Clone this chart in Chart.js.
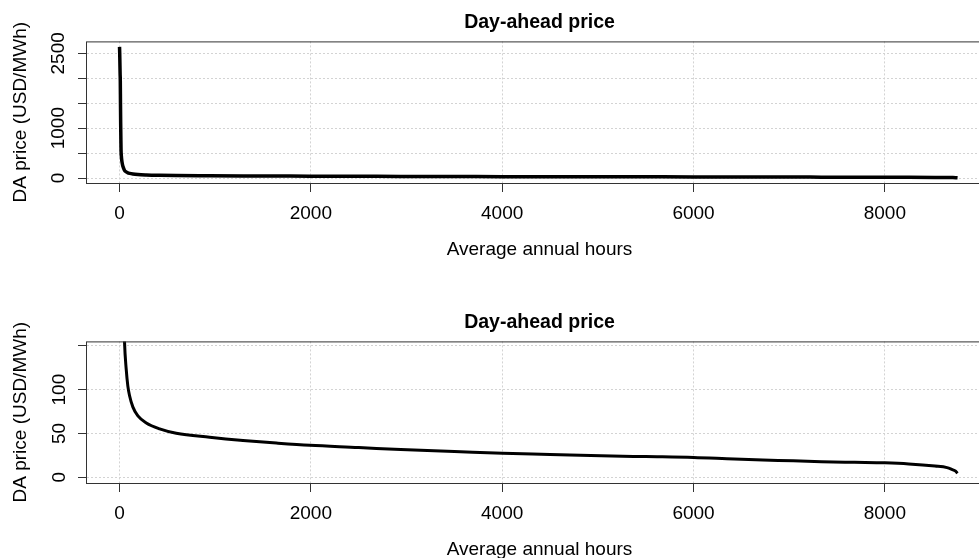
<!DOCTYPE html>
<html>
<head>
<meta charset="utf-8">
<title>Day-ahead price</title>
<script src="https://cdn.jsdelivr.net/npm/chart.js@4.4.1/dist/chart.umd.min.js"></script>
<style>
    html, body { margin: 0; padding: 0; background: #fff; overflow: hidden; width: 979px; height: 558px; }
    .panel { position: absolute; left: 0; width: 1000px; height: 300px; }
    #topPanel { top: 0; }
    #bottomPanel { top: 300px; }
</style>
</head>
<body>
<div class="panel" id="topPanel"><canvas id="topChart" width="1000" height="300"></canvas></div>
<div class="panel" id="bottomPanel"><canvas id="bottomChart" width="1000" height="300"></canvas></div>
<script>
// ============================================
// DATA (price duration curve)
// ============================================
const hours = [0, 2, 4, 6, 8, 10, 12, 14, 16, 20, 26, 32, 40, 52, 70, 87, 105, 140, 192, 280, 419, 593, 942, 1291, 1640, 1990, 2500, 2939, 3500, 4004, 4500, 5034, 5500, 6000, 6426, 6885, 7337, 7683, 8000, 8250, 8525, 8650, 8700, 8740, 8760];
const prices = [2630, 2500, 2300, 2100, 1950, 1500, 1100, 800, 550, 420, 320, 260, 210, 155, 123, 104, 93, 80, 70, 62, 55.3, 50.3, 45.8, 42.1, 39.1, 36.5, 34, 31.6, 29.4, 27.3, 26, 24.5, 23.6, 22.7, 20.8, 19.3, 17.8, 17.1, 16.5, 15.3, 12.8, 11, 9, 7, 4.5];

const xTicks = [0, 2000, 4000, 6000, 8000];
const topYTicks = [0, 500, 1000, 1500, 2000, 2500];
const topYLabels = ['0', '', '1000', '', '', '2500'];
const bottomYTicks = [0, 50, 100, 150];
const bottomYLabels = ['0', '50', '100', ''];

const chartTitle = 'Day-ahead price';
const xTitle = 'Average annual hours';
const yTitle = 'DA price (USD/MWh)';

// ============================================
// CONFIGURATION
// ============================================
const FONT = "'Liberation Sans', Arial, sans-serif";
const GRID_COLOR = '#d3d3d3';
const AXIS_COLOR = '#333';

// draws the full box round the plot region, like base R
const boxPlugin = {
    id: 'plotBox',
    afterDraw(chart) {
        const { ctx, chartArea: a } = chart;
        ctx.save();
        ctx.strokeStyle = AXIS_COLOR;
        ctx.lineWidth = 1;
        ctx.strokeRect(a.left - 0.5, a.top + 0.5, a.right - a.left + 1, a.bottom - a.top);
        ctx.restore();
    }
};

// ============================================
// INITIALIZATION
// ============================================
document.addEventListener('DOMContentLoaded', () => {
    createPanel('topChart', {
        yMin: -100, yMax: 2740,
        yTicks: topYTicks, yLabels: topYLabels,
        tickPadding: -2, lineWidth: 3.5
    });
    createPanel('bottomChart', {
        yMin: -6.5, yMax: 155,
        yTicks: bottomYTicks, yLabels: bottomYLabels,
        tickPadding: 2, lineWidth: 3
    });
});

function createPanel(canvasId, opts) {
    const ctx = document.getElementById(canvasId);
    if (!ctx) return null;

    return new Chart(ctx, {
        type: 'line',
        data: {
            datasets: [{
                data: hours.map((h, i) => ({ x: h, y: prices[i] })),
                borderColor: '#000',
                borderWidth: opts.lineWidth,
                pointRadius: 0,
                cubicInterpolationMode: 'monotone',
                fill: false,
                clip: 0
            }]
        },
        options: {
            responsive: false,
            animation: false,
            devicePixelRatio: 1,
            layout: { padding: { left: 0, right: 8, top: 0, bottom: 0 } },
            plugins: {
                legend: { display: false },
                tooltip: { enabled: false },
                title: {
                    display: true,
                    text: chartTitle,
                    fullSize: false,
                    color: '#000',
                    font: { family: FONT, size: 19.5, weight: 'bold', lineHeight: 1.2 },
                    padding: { top: 11, bottom: 7 }
                }
            },
            scales: {
                x: {
                    type: 'linear',
                    min: -340,
                    max: 9120,
                    afterBuildTicks: s => { s.ticks = xTicks.map(v => ({ value: v })); },
                    afterFit: s => { s.height = 117; },
                    grid: {
                        color: GRID_COLOR,
                        lineWidth: 1,
                        tickLength: 9,
                        tickColor: AXIS_COLOR,
                        tickWidth: 1,
                        tickBorderDash: []
                    },
                    border: { display: false, dash: [2, 2] },
                    ticks: {
                        color: '#000',
                        font: { family: FONT, size: 19 },
                        padding: 10,
                        maxRotation: 0,
                        autoSkip: false,
                        callback: v => String(v)
                    },
                    title: {
                        display: true,
                        text: xTitle,
                        color: '#000',
                        font: { family: FONT, size: 19, lineHeight: 1.2 },
                        padding: { top: 0, bottom: 39 }
                    }
                },
                y: {
                    type: 'linear',
                    min: opts.yMin,
                    max: opts.yMax,
                    afterBuildTicks: s => { s.ticks = opts.yTicks.map(v => ({ value: v })); },
                    afterFit: s => { s.width = 87; },
                    grid: {
                        color: GRID_COLOR,
                        lineWidth: 1,
                        tickLength: 9,
                        tickColor: AXIS_COLOR,
                        tickWidth: 1,
                        tickBorderDash: []
                    },
                    border: { display: false, dash: [2, 2] },
                    ticks: {
                        color: '#000',
                        font: { family: FONT, size: 19 },
                        padding: opts.tickPadding,
                        minRotation: 90,
                        maxRotation: 90,
                        crossAlign: 'center',
                        autoSkip: false,
                        callback: v => {
                            const i = opts.yTicks.indexOf(v);
                            return i >= 0 ? opts.yLabels[i] : '';
                        }
                    },
                    title: {
                        display: true,
                        text: yTitle,
                        color: '#000',
                        font: { family: FONT, size: 19, lineHeight: 1.2 },
                        padding: { top: 9, bottom: 0 }
                    }
                }
            }
        },
        plugins: [boxPlugin]
    });
}
</script>
</body>
</html>
